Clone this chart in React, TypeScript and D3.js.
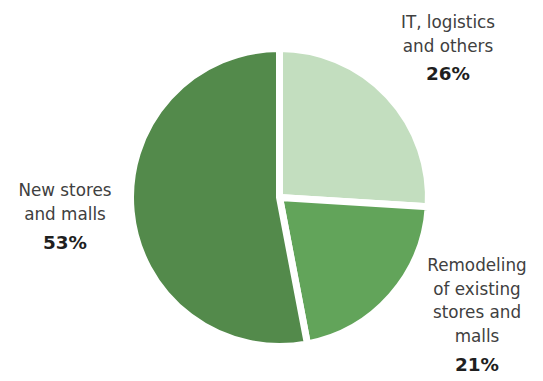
import React from "react";
import * as d3 from "d3";

const categories = ["IT, logistics and others", "Remodeling of existing stores and malls", "New stores and malls"];
const values = [26, 21, 53];
const labelLines = [
  ["IT, logistics", "and others"],
  ["Remodeling", "of existing", "stores and", "malls"],
  ["New stores", "and malls"],
];
const colors = ["#C3DEBF", "#62A45A", "#538A4B"];

const W = 543;
const H = 381;
const cx = 279.5;
const cy = 197.5;
const R = 149;

// label layout: [centerX, firstBaseline, lineGap, percentGap]
const labelLayout: [number, number, number, number][] = [
  [448, 27.5, 24.2, 28.5],
  [477, 271, 23.7, 28.5],
  [65, 195.8, 24.2, 28.8],
];

export default function App() {
  const pie = d3.pie<number>().sort(null).value((d) => d)(values);
  const arc = d3.arc<d3.PieArcDatum<number>>().innerRadius(0).outerRadius(R);
  const font = "'DejaVu Sans', 'Liberation Sans', sans-serif";
  return (
    <svg width={W} height={H} style={{ position: "absolute", left: 0, top: 0, background: "#fff" }}>
      <g transform={`translate(${cx},${cy})`}>
        {pie.map((p, i) => (
          <path key={categories[i]} d={arc(p) || ""} fill={colors[i]} stroke="#fff" strokeWidth={7} strokeLinejoin="miter" />
        ))}
      </g>
      {labelLines.map((lines, i) => {
        const [x, y0, gap, pg] = labelLayout[i];
        return (
          <g key={categories[i]} fontFamily={font} textAnchor="middle">
            {lines.map((l, j) => (
              <text key={j} x={x} y={y0 + j * gap} fontSize={16.8} fill="#404040">
                {l}
              </text>
            ))}
            <text x={x} y={y0 + (lines.length - 1) * gap + pg} fontSize={18.4} fontWeight="bold" fill="#1f1f1f">
              {values[i]}%
            </text>
          </g>
        );
      })}
    </svg>
  );
}
